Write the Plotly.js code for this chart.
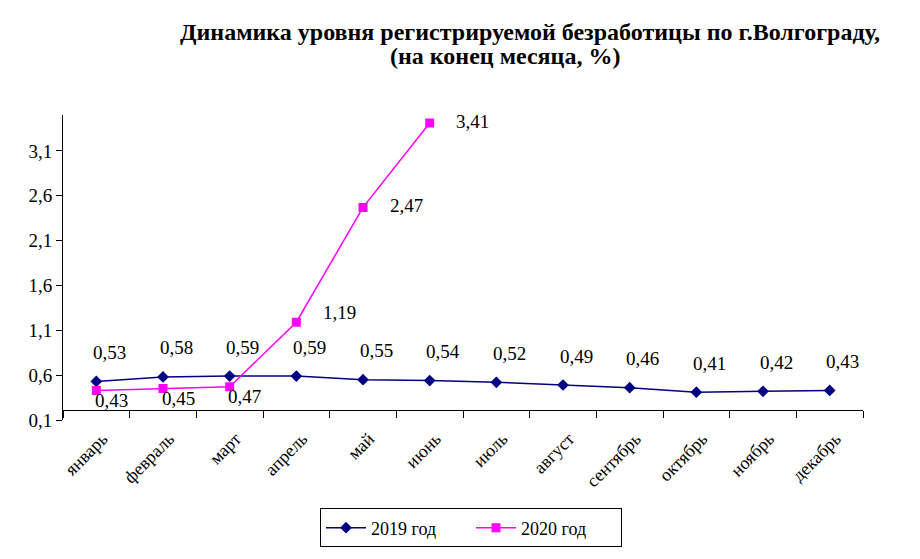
<!DOCTYPE html>
<html>
<head>
<meta charset="utf-8">
<script src="https://cdn.plot.ly/plotly-3.0.1.min.js"></script>
<style>html,body{margin:0;padding:0;background:#fff;}#chart{width:920px;height:559px;}</style>
</head>
<body>
<div id="chart"></div>
<script>
var months = ['январь','февраль','март','апрель','май','июнь','июль','август','сентябрь','октябрь','ноябрь','декабрь'];
var values2019 = [0.53,0.58,0.59,0.59,0.55,0.54,0.52,0.49,0.46,0.41,0.42,0.43];
var months2020 = ['январь','февраль','март','апрель','май','июнь'];
var values2020 = [0.43,0.45,0.47,1.19,2.47,3.41];
var seriesNames = ['2019 год','2020 год'];
var titleLines = ['Динамика уровня регистрируемой безработицы по г.Волгограду,', '(на конец месяца, %)'];

var serif = 'Liberation Serif';
var yMin = 0.1, yMax = 3.5, crossFrac = 0.032;

function fmt(v){ return v.toFixed(2).replace('.', ','); }

var traces = [
  {x: months, y: values2019, name: seriesNames[0], type: 'scatter', mode: 'lines+markers',
   line: {color: '#000080', width: 1.5}, marker: {symbol: 'diamond', size: 9, color: '#000080'}},
  {x: months2020, y: values2020, name: seriesNames[1], type: 'scatter', mode: 'lines+markers',
   line: {color: '#FF00FF', width: 1.5}, marker: {symbol: 'square', size: 9, color: '#FF00FF'}},
  {x: [], y: [], yaxis: 'y2', showlegend: false, hoverinfo: 'skip', type: 'scatter', mode: 'markers'}
];

var annotations = [];
annotations.push({text: '<b>' + titleLines[0] + '</b>', xref: 'paper', yref: 'paper', x: 0.584, y: 1.272, xanchor: 'center', yanchor: 'middle',
  showarrow: false, font: {family: serif, size: 24, color: '#000'}});
annotations.push({text: '<b>' + titleLines[1] + '</b>', xref: 'paper', yref: 'paper', x: 0.5525, y: 1.192, xanchor: 'center', yanchor: 'middle',
  showarrow: false, font: {family: serif, size: 24, color: '#000'}});
values2019.forEach(function(v, i){
  annotations.push({x: months[i], y: v, xref: 'x', yref: 'y', text: fmt(v), showarrow: false,
    xshift: 13, yshift: 29, font: {family: serif, size: 19, color: '#000'}});
});
values2020.forEach(function(v, i){
  var early = i < 3;
  annotations.push({x: months2020[i], y: v, xref: 'x', yref: 'y', text: fmt(v), showarrow: false,
    xshift: early ? 15 : 43, yshift: early ? -10 : (i === 3 ? 10 : 2), font: {family: serif, size: 19, color: '#000'}});
});

var layout = {
  width: 920, height: 559,
  margin: {l: 63, r: 57, t: 115, b: 132},
  paper_bgcolor: '#fff', plot_bgcolor: 'rgba(0,0,0,0)',
  separators: ', ',
  font: {family: serif, color: '#000'},
  showlegend: true,
  legend: {orientation: 'h', x: 0.51, xanchor: 'center', y: -0.29, yanchor: 'top',
    entrywidth: 95, itemwidth: 40,
    bordercolor: '#000', borderwidth: 1, font: {family: serif, size: 18, color: '#000'}, bgcolor: '#fff'},
  xaxis: {type: 'category', categoryarray: months, categoryorder: 'array', range: [-0.5, 11.5],
    showline: true, linecolor: '#000', linewidth: 1, ticks: 'outside', ticklen: 7, tickcolor: '#000',
    tickson: 'boundaries', tickangle: -45, showgrid: false, zeroline: false, automargin: false,
    anchor: 'y', ticklabelstandoff: 10, ticklabelshift: 6,
    tickfont: {family: serif, size: 18, color: '#000'}},
  yaxis: {domain: [crossFrac, 1], range: [yMin + crossFrac * (yMax - yMin), yMax], automargin: false,
    showline: false, showticklabels: false, ticks: '', showgrid: false, zeroline: false},
  yaxis2: {domain: [0, 1], range: [yMin, yMax], anchor: 'x', tick0: 0.1, dtick: 0.5, tickformat: '.1f', automargin: false,
    showline: true, linecolor: '#000', linewidth: 1, ticks: 'outside', ticklen: 6, tickcolor: '#000',
    showgrid: false, zeroline: false, tickfont: {family: serif, size: 19, color: '#000'}},
  annotations: annotations
};

Plotly.newPlot('chart', traces, layout, {displayModeBar: false, staticPlot: true});
</script>
</body>
</html>
